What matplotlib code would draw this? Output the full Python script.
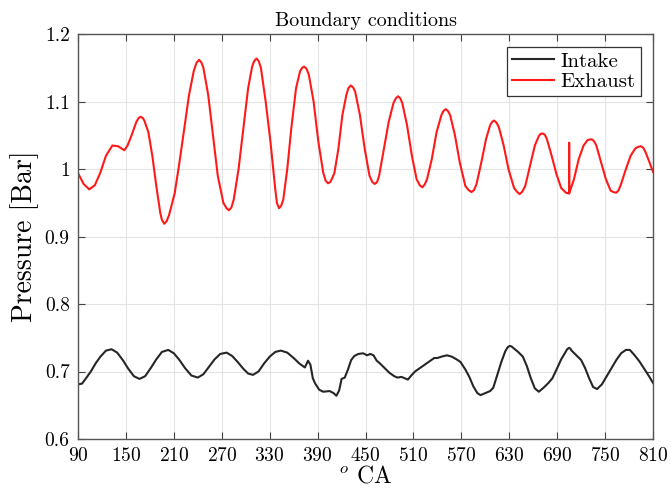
import numpy as np
import matplotlib
matplotlib.use("Agg")
import matplotlib.pyplot as plt

# LaTeX-like look (MATLAB figure exported with latex interpreter)
plt.rcParams['font.family'] = 'serif'
plt.rcParams['font.serif'] = ['cmr10', 'DejaVu Serif']
plt.rcParams['mathtext.fontset'] = 'cm'
plt.rcParams['axes.formatter.use_mathtext'] = True

# Exhaust pressure (crank angle [deg], pressure [bar])
exh_ca = [90, 97, 104, 111, 118, 125, 133, 140, 148, 152, 157, 163, 166, 168.5, 171, 173, 178,
          183, 188, 193, 195, 198, 201, 204, 211, 217, 223, 229, 235, 238.5, 241.5, 244.5, 247, 253, 259, 265,
          272, 276, 279, 282, 285, 291, 297, 303, 308, 310.5, 313.4, 316.3, 319, 325, 331, 337, 339, 341.7, 344.5, 347, 352,
          357, 363, 368, 370.5, 373, 376, 379, 385, 391, 397, 400, 403, 406, 408, 411, 416, 421, 426, 428.5, 431.5,
          434.5, 437, 443, 449, 455, 458.5, 461.5, 464.5, 467, 473, 479, 485, 488, 490.7, 493.5, 496, 502, 508, 514, 518, 521,
          524, 527, 533, 539, 545, 547.5, 550.4, 553.3, 556, 562, 568, 575, 579, 582.6, 586, 589, 595, 601, 606, 608.5, 611,
          614, 617, 623, 629, 636, 640, 643, 646.5, 650, 656, 662, 667, 669, 671.5, 674.5, 677, 683, 689, 695, 701,
          705, 705, 705, 711, 717, 723, 728, 731, 733.6, 736.5, 739, 745, 751, 757, 760.5, 764, 767, 770,
          776, 782, 788, 791.5, 794.6, 797.5, 800, 805, 810]
exh_p = [0.994, 0.978, 0.970, 0.976, 0.995, 1.020, 1.035, 1.034, 1.028, 1.035, 1.050, 1.070, 1.076, 1.0775, 1.076, 1.072, 1.055,
         1.020, 0.975, 0.935, 0.925, 0.919, 0.923, 0.932, 0.964, 1.010, 1.060, 1.110, 1.146, 1.158, 1.162, 1.158, 1.150, 1.110, 1.050, 0.990,
         0.950, 0.942, 0.939, 0.943, 0.955, 1.000, 1.060, 1.120, 1.152, 1.160, 1.164, 1.160, 1.150, 1.100, 1.040, 0.970, 0.950, 0.942, 0.946, 0.955, 1.000,
         1.060, 1.120, 1.145, 1.150, 1.152, 1.149, 1.140, 1.100, 1.040, 0.995, 0.983, 0.979, 0.981, 0.986, 0.994, 1.030, 1.080, 1.110, 1.120, 1.124,
         1.121, 1.115, 1.080, 1.030, 0.990, 0.981, 0.978, 0.981, 0.990, 1.030, 1.070, 1.098, 1.105, 1.108, 1.105, 1.098, 1.065, 1.020, 0.985, 0.976, 0.973,
         0.977, 0.985, 1.015, 1.055, 1.080, 1.086, 1.089, 1.086, 1.080, 1.050, 1.010, 0.975, 0.969, 0.966, 0.969, 0.978, 1.010, 1.045, 1.065, 1.070, 1.072,
         1.069, 1.062, 1.035, 1.000, 0.972, 0.966, 0.963, 0.967, 0.975, 1.005, 1.035, 1.049, 1.052, 1.053, 1.051, 1.045, 1.020, 0.993, 0.972, 0.965,
         0.964, 1.039, 0.964, 0.985, 1.015, 1.035, 1.043, 1.044, 1.044, 1.041, 1.035, 1.010, 0.985, 0.968, 0.966, 0.965, 0.969, 0.978,
         1.000, 1.020, 1.031, 1.033, 1.034, 1.032, 1.027, 1.012, 0.996]

# Intake pressure
int_ca = [90, 95, 100, 106, 112, 118, 125, 132, 139, 146, 153, 160, 167, 174, 181,
          188, 195, 203, 210, 217, 224, 232, 240, 247, 254, 261, 268, 276, 283, 290,
          297, 303, 309, 316, 323, 330, 337, 344, 352, 360, 367, 374, 378, 381, 384,
          387, 392, 397, 405, 410, 413.5, 417, 420, 424, 428, 432, 436, 441, 447, 452,
          456, 460, 464, 468, 474, 480, 486, 490, 495, 499, 503, 508, 512, 518, 524,
          530, 536, 540, 545, 552, 558, 564, 569, 575, 580, 585, 590, 594, 600, 606,
          610, 615, 620, 625, 628, 630.6, 633, 636, 642, 647, 652, 657, 662, 667, 673, 679, 684,
          690, 695, 700, 702.5, 704.8, 706.5, 708, 714, 720, 725, 730, 735, 740, 746, 752, 758, 764,
          770, 776, 781, 787, 793, 799, 805, 810]
int_p = [0.681, 0.682, 0.690, 0.700, 0.712, 0.722, 0.731, 0.733, 0.728, 0.717, 0.704, 0.693, 0.689, 0.693, 0.705,
         0.718, 0.729, 0.732, 0.727, 0.717, 0.705, 0.694, 0.691, 0.696, 0.707, 0.718, 0.726, 0.728, 0.723, 0.714,
         0.704, 0.697, 0.695, 0.700, 0.712, 0.722, 0.729, 0.731, 0.728, 0.720, 0.712, 0.706, 0.716, 0.710, 0.690,
         0.682, 0.673, 0.670, 0.671, 0.668, 0.664, 0.672, 0.689, 0.691, 0.703, 0.717, 0.723, 0.726, 0.727, 0.724,
         0.726, 0.724, 0.716, 0.712, 0.705, 0.698, 0.693, 0.691, 0.692, 0.690, 0.688, 0.695, 0.700, 0.705, 0.710,
         0.715, 0.720, 0.720, 0.722, 0.724, 0.722, 0.718, 0.714, 0.703, 0.692, 0.678, 0.668, 0.665, 0.668, 0.671,
         0.676, 0.695, 0.714, 0.730, 0.736, 0.738, 0.737, 0.734, 0.728, 0.722, 0.708, 0.690, 0.675, 0.670, 0.676, 0.683, 0.690,
         0.705, 0.718, 0.728, 0.733, 0.735, 0.734, 0.731, 0.724, 0.717, 0.705, 0.690, 0.677, 0.674, 0.681, 0.693, 0.705, 0.717,
         0.727, 0.732, 0.732, 0.724, 0.715, 0.704, 0.693, 0.683]

x_ticks = list(range(90, 811, 60))
y_ticks = [0.6, 0.7, 0.8, 0.9, 1.0, 1.1, 1.2]
y_ticklabels = ['0.6', '0.7', '0.8', '0.9', '1', '1.1', '1.2']

fig = plt.figure(figsize=(6.71, 4.96), dpi=100)
ax = fig.add_axes([0.1163, 0.115, 0.8569, 0.816])

ax.plot(int_ca, int_p, color='#262626', lw=1.5, label='Intake')
ax.plot(exh_ca, exh_p, color='#ff1a1a', lw=1.5, label='Exhaust')

ax.set_xlim(90, 810)
ax.set_ylim(0.6, 1.2)
ax.set_xticks(x_ticks)
ax.set_yticks(y_ticks)
ax.set_yticklabels(y_ticklabels)
ax.tick_params(direction='in', top=True, right=True, labelsize=14, length=5,
               color='#444444', pad=6)
ax.grid(True, color='#e3e3e3', lw=0.8)
ax.set_axisbelow(True)
for s in ax.spines.values():
    s.set_color('#555555')
    s.set_linewidth(1.0)

ax.set_title('Boundary conditions', fontsize=14.5, pad=6)
ax.set_xlabel(r'$^o$ CA', fontsize=17, labelpad=0)
ax.set_ylabel('Pressure [Bar]', fontsize=20, labelpad=4)

leg = ax.legend(loc='upper right', fontsize=15, fancybox=False, framealpha=1,
                edgecolor='#333333', handlelength=2.0, borderpad=0.25,
                labelspacing=0.1, handletextpad=0.3, borderaxespad=0.6)
leg.get_frame().set_linewidth(0.9)

fig.savefig('out.png', dpi=100)
